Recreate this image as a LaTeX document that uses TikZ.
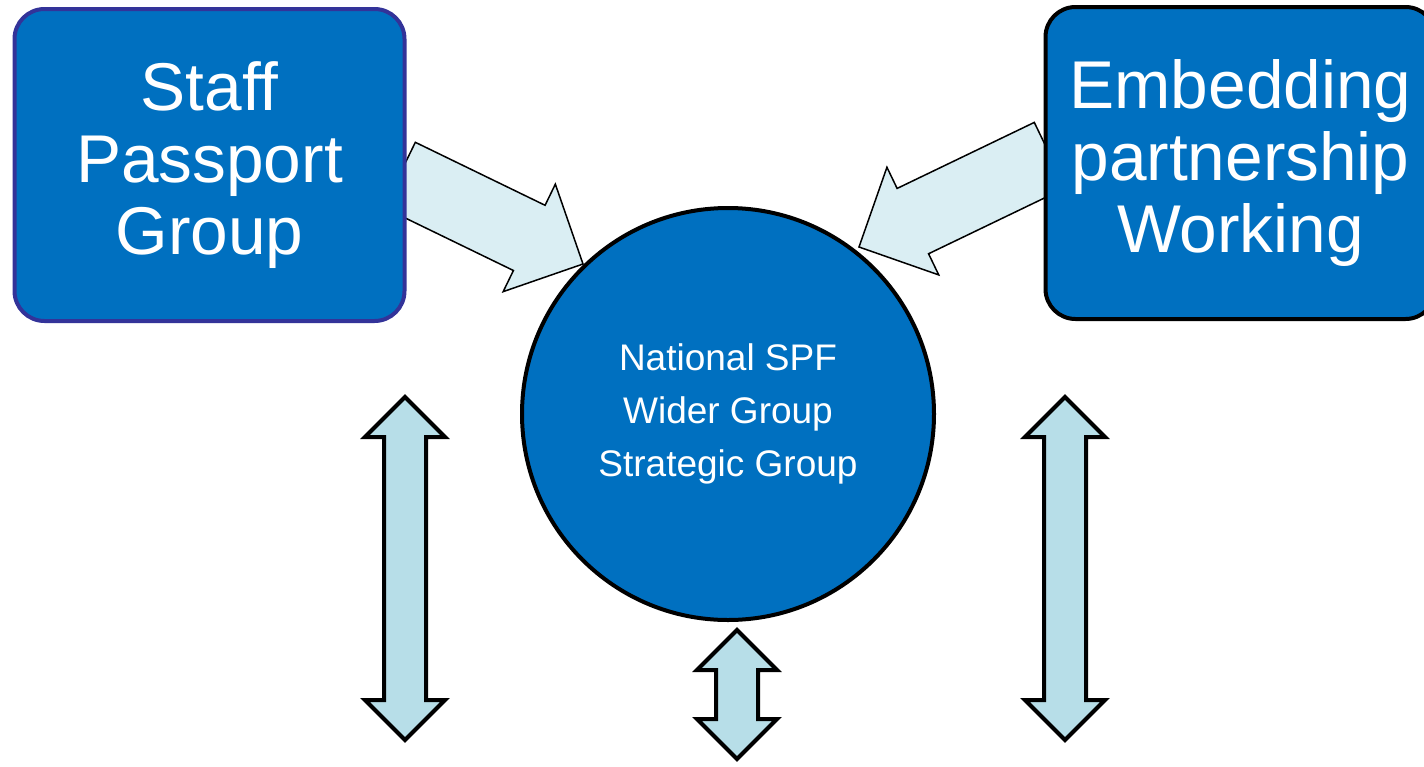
\documentclass[tikz,border=0pt]{standalone}
\usepackage{fontspec}
\setmainfont{Liberation Sans}
\usetikzlibrary{shapes.arrows}
\definecolor{boxblue}{HTML}{0070C0}
\definecolor{boxedge}{HTML}{333399}
\definecolor{paleaqua}{HTML}{DAEEF3}
\definecolor{aqua}{HTML}{B7DEE8}

\begin{document}
\begin{tikzpicture}[x=0.5pt, y=-0.5pt,
    group/.style={draw, rectangle, rounded corners=15pt, line width=2pt, fill=boxblue, text=white, align=center,
      minimum width=195pt, minimum height=156pt, inner sep=0pt, font=\fontsize{33.8}{36}\selectfont},
    feed/.style={single arrow, draw, fill=paleaqua, line width=0.75pt, anchor=tip, outer sep=0pt,
      inner xsep=0pt, inner ysep=17.75pt, single arrow head extend=11.75pt},
    link/.style={double arrow, draw, fill=aqua, line width=2pt, rotate=90, outer sep=0pt,
      inner xsep=0pt, inner ysep=9.5pt, double arrow head extend=9.5pt}]
    \useasboundingbox (0,0) rectangle (1424,766);
    % Flechas de entrada hacia el grupo nacional
    \node[feed, rotate=-25.9, minimum height=102pt] (staffarrow) at (583,264) {};
    \node[feed, rotate=205.7, minimum height=106pt] (embedarrow) at (859,247) {};
    % Flechas dobles verticales
    \node[link, minimum height=171.5pt] (leftlink) at (405,568.5) {};
    \node[link, minimum height=64.5pt] (midlink) at (737,694.5) {};
    \node[link, minimum height=171.5pt] (rightlink) at (1065,568.5) {};
    % Grupos de trabajo
    \node[group, draw=boxedge] (staff) at (209.5,165) {Staff\\Passport\\Group};
    \node[group, draw=black] (embedding) at (1240.5,163) {Embedding\\partnership\\Working};
    % Grupo nacional en el centro
    \node[circle, draw, line width=2pt, fill=boxblue, text=white, align=center, minimum size=206pt, inner sep=0pt,
      font=\fontsize{18.5}{26.5}\selectfont] (national) at (728,414) {National SPF\\Wider Group\\Strategic Group};
\end{tikzpicture}
\end{document}
